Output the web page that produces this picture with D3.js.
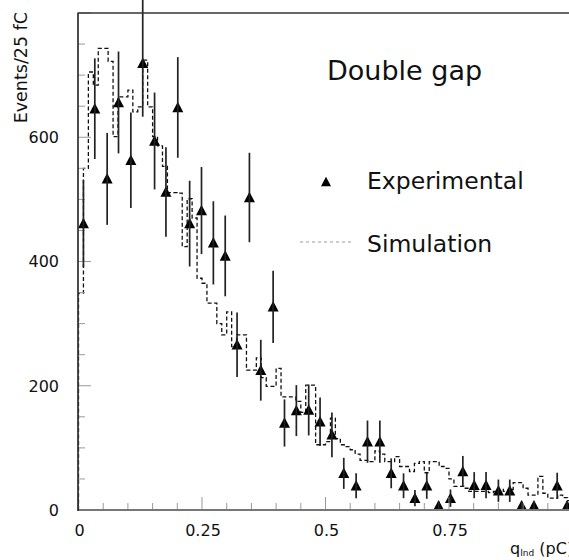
<!DOCTYPE html>
<html><head><meta charset="utf-8">
<script src="https://cdn.jsdelivr.net/npm/d3@7"></script>
<style>body{margin:0;background:#fff} svg{display:block}</style>
</head><body>
<script>
// Experimental points (bin centres), values and errors
const expX = [0.010,0.033,0.058,0.081,0.106,0.130,0.154,0.177,0.201,0.225,
              0.249,0.273,0.297,0.321,0.346,0.369,0.394,0.417,0.441,0.466,
              0.489,0.513,0.537,0.562,0.585,0.610,0.633,0.658,0.681,0.705,
              0.729,0.753,0.778,0.801,0.825,0.850,0.873,0.897,0.922,0.969,0.989];
const expY = [461,646,533,656,563,719,594,512,648,461,
              482,430,409,266,503,225,327,140,160,161,
              142,121,59,39,110,110,59,39,19,39,
              7,19,62,40,40,31,31,7,7,39,7];
const expErr = [70,81,74,82,77,86,78,72,81,69,
                70,67,65,52,72,49,58,38,41,41,
                39,36,25,20,34,34,24,20,13,21,
                7,14,25,21,21,18,18,7,7,21,7];
// Simulation histogram, bins of 0.01 pC starting at 0
const simBinWidth = 0.01;
const simY = [349,550,705,684,743,743,722,601,665,665,
              676,641,649,724,649,601,586,553,511,511,
              510,424,501,470,373,365,333,333,300,282,
              319,263,282,282,225,225,245,213,199,199,
              228,182,182,182,175,157,201,201,105,105,
              110,148,115,105,102,97,90,80,80,78,
              95,90,78,78,86,70,70,62,75,78,
              60,78,78,70,67,50,38,38,35,30,
              30,30,30,28,30,33,30,33,44,44,
              35,24,24,54,27,19,19,24,20,15];
const xTicks = [0,0.25,0.5,0.75];
const xTickLabels = ["0","0.25","0.5","0.75"];
const yTicks = [0,200,400,600];
const yTickLabels = ["0","200","400","600"];

const W = 569, H = 560;
const L = 78.5, R = 572.5, T = 13, B = 510;
const svg = d3.select("body").append("svg").attr("width", W).attr("height", H);
const x = d3.scaleLinear().domain([0, 1]).range([L, R]);
const y = d3.scaleLinear().domain([0, 800]).range([B, T]);

svg.append("defs").append("clipPath").attr("id","clip")
  .append("rect").attr("x", L).attr("y", T).attr("width", R - L).attr("height", B - T);
const plot = svg.append("g").attr("clip-path","url(#clip)");

// ticks
const xMinor = d3.range(0, 1.0001, 0.05);
svg.append("g").selectAll("line").data(xMinor).join("line")
  .attr("x1", d => x(d)).attr("x2", d => x(d))
  .attr("y1", B).attr("y2", d => (Math.abs(d/0.25 - Math.round(d/0.25)) < 1e-6) ? B - 13 : B - 7)
  .attr("stroke", "#999").attr("stroke-width", 1);
const yMinor = d3.range(0, 801, 50);
svg.append("g").selectAll("line").data(yMinor).join("line")
  .attr("y1", d => y(d)).attr("y2", d => y(d))
  .attr("x1", L).attr("x2", d => (d % 200 === 0) ? L + 12.5 : L + 6.5)
  .attr("stroke", "#999").attr("stroke-width", 1);

// simulation histogram (dashed steps)
let p = d3.path();
p.moveTo(x(0), y(0));
simY.forEach((v, i) => {
  p.lineTo(x(i * simBinWidth), y(v));
  p.lineTo(x((i + 1) * simBinWidth), y(v));
});
p.lineTo(x(simY.length * simBinWidth), y(0));
plot.append("path").attr("d", p.toString())
  .attr("fill", "none").attr("stroke", "#111").attr("stroke-width", 1.3)
  .attr("stroke-dasharray", "4,2.5");

// experimental error bars (not clipped at the top, as in the original) and triangles
const pts = expX.map((d, i) => ({x: d, v: expY[i], e: expErr[i]}));
svg.append("g").selectAll("line").data(pts.filter(d => x(d.x) < W)).join("line")
  .attr("x1", d => x(d.x)).attr("x2", d => x(d.x))
  .attr("y1", d => Math.max(0, y(d.v + d.e) - (d.v + d.e > 800 ? 10 : 0)))
  .attr("y2", d => y(Math.max(0, d.v - d.e)))
  .attr("stroke", "#222").attr("stroke-width", 1.7);
const tri = (cx, cy, w, h) => `M${cx},${cy - h*0.55}L${cx + w/2},${cy + h*0.45}L${cx - w/2},${cy + h*0.45}Z`;
plot.append("g").selectAll("path").data(pts).join("path")
  .attr("d", d => tri(x(d.x), y(d.v), 11, 10.5))
  .attr("fill", "#000");

// frame
svg.append("line").attr("x1", L).attr("x2", W).attr("y1", B).attr("y2", B)
  .attr("stroke", "#777").attr("stroke-width", 2);
svg.append("line").attr("x1", L - 0.5).attr("x2", L - 0.5).attr("y1", T).attr("y2", B + 1)
  .attr("stroke", "#111").attr("stroke-width", 1.5);
svg.append("line").attr("x1", L - 1).attr("x2", W).attr("y1", T).attr("y2", T)
  .attr("stroke", "#333").attr("stroke-width", 1.5);

// tick labels
const font = "'DejaVu Sans', sans-serif";
svg.append("g").selectAll("text").data(xTicks).join("text")
  .attr("x", d => x(d) + 1).attr("y", 536)
  .attr("text-anchor", "middle").attr("font-family", font).attr("font-size", 16)
  .attr("fill", "#111")
  .text((d, i) => xTickLabels[i]);
svg.append("g").selectAll("text").data(yTicks).join("text")
  .attr("x", 59).attr("y", d => y(d)).attr("dy", "0.36em")
  .attr("text-anchor", "end").attr("font-family", font).attr("font-size", 16)
  .attr("fill", "#111")
  .text((d, i) => yTickLabels[i]);

// axis titles
svg.append("text").attr("transform", "translate(27,12) rotate(-90)")
  .attr("text-anchor", "end").attr("font-family", font).attr("font-size", 17.5)
  .attr("fill", "#111").text("Events/25 fC");
const xt = svg.append("text").attr("x", 510).attr("y", 554)
  .attr("font-family", font).attr("font-size", 16).attr("fill", "#111");
xt.append("tspan").text("q");
xt.append("tspan").attr("font-size", 9).attr("dy", 2).text("Ind");
xt.append("tspan").attr("dy", -2).text(" (pC)");

// title and legend
svg.append("text").attr("x", 327).attr("y", 80)
  .attr("font-family", font).attr("font-size", 27).attr("fill", "#111").text("Double gap");
svg.append("path").attr("d", tri(326, 182, 10, 9.5)).attr("fill", "#000");
svg.append("text").attr("x", 367).attr("y", 189)
  .attr("font-family", font).attr("font-size", 23.5).attr("fill", "#111").text("Experimental");
svg.append("line").attr("x1", 300).attr("x2", 351).attr("y1", 242).attr("y2", 242)
  .attr("stroke", "#999").attr("stroke-width", 1).attr("stroke-dasharray", "3,3");
svg.append("text").attr("x", 367).attr("y", 252)
  .attr("font-family", font).attr("font-size", 23.5).attr("fill", "#111").text("Simulation");
</script>
</body></html>
